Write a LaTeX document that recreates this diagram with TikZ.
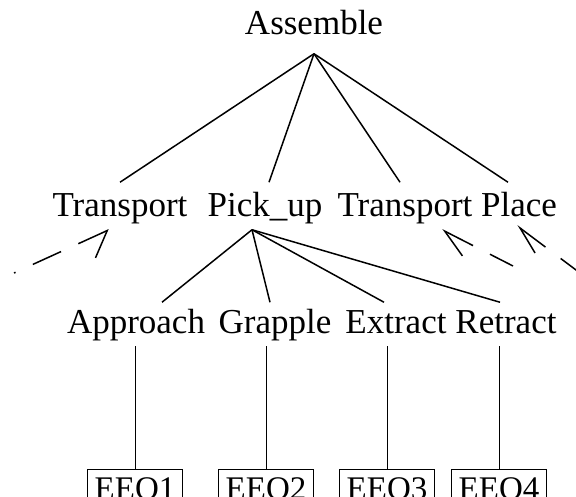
\documentclass[tikz,border=0pt]{standalone}
\usepackage{fontspec}
\setmainfont{Liberation Serif}
\usetikzlibrary{arrows.meta}
\newcommand{\wordfont}{\fontsize{35}{42}\selectfont}
\newcommand{\boxfont}{\fontsize{33}{40}\selectfont}

\begin{document}
\begin{tikzpicture}[x=1pt,y=-1pt,line width=1.5pt,
        word/.style={font=\wordfont, anchor=base, inner xsep=0pt, text height=24pt},
        root/.style={word, text depth=0pt, inner ysep=18pt},
        task/.style={word, text depth=2pt, inner ysep=10pt},
        subtask/.style={word, text depth=4pt, inner ysep=7pt},
        eeo/.style={draw, line width=1.2pt, font=\boxfont, anchor=north, minimum width=95pt,
                    inner xsep=0pt, inner ysep=6pt, text height=24pt, text depth=30pt},
        back/.style={dash pattern=on 31pt off 19pt}]
    \useasboundingbox (0,0) rectangle (576,497);
    \clip (0,0) rectangle (576,497);

    \node[root]    (assemble)   at (314,35)  {Assemble};

    \node[task]    (transportA) at (120,217) {Transport};
    \node[task]    (pickup)     at (265,217) {Pick\_up};
    \node[task]    (transportB) at (405,217) {Transport};
    \node[task]    (place)      at (519,217) {Place};

    \node[subtask] (approach)   at (136,334) {Approach};
    \node[subtask] (grapple)    at (275,334) {Grapple};
    \node[subtask] (extract)    at (396,334) {Extract};
    \node[subtask] (retract)    at (506,334) {Retract};

    \node[eeo]     (eeo1)       at (135,469) {EEO1};
    \node[eeo]     (eeo2)       at (266,469) {EEO2};
    \node[eeo]     (eeo3)       at (387,469) {EEO3};
    \node[eeo]     (eeo4)       at (499,469) {EEO4};

    % decomposition
    \path (assemble.south) edge (transportA.north)
                           edge ([xshift=4pt]pickup.north)
                           edge ([xshift=-5pt]transportB.north)
                           edge ([xshift=-11pt]place.north);
    \path ([xshift=-13pt]pickup.south) edge ([xshift=26pt]approach.north)
                                       edge ([xshift=-5pt]grapple.north)
                                       edge ([xshift=-12pt]extract.north)
                                       edge ([xshift=-6pt]retract.north);

    % elementary operations
    \path[line width=0.9pt] (eeo1.north) edge (eeo1.north |- approach.south)
                            (eeo2.north) edge (eeo2.north |- grapple.south)
                            (eeo3.north) edge (eeo3.north |- extract.south)
                            (eeo4.north) edge (eeo4.north |- retract.south);

    % links coming back from outside
    \coordinate (fromleft)  at (14,273);
    \coordinate (fromright) at (513,266);
    \coordinate (fromfar)   at (600,288);
    \draw[back, {Straight Barb[harpoon,swap,length=22pt,width=40pt]}-]
        ([xshift=-11pt]transportA.south) -- (fromleft);
    \draw[back, {Straight Barb[harpoon,length=27pt,width=28pt]}-]
        ([xshift=37pt]transportB.south) -- (fromright);
    \draw[back, {Straight Barb[harpoon,length=27pt,width=22pt]}-]
        ([xshift=-2pt,yshift=4pt]place.south) -- (fromfar);
\end{tikzpicture}
\end{document}
